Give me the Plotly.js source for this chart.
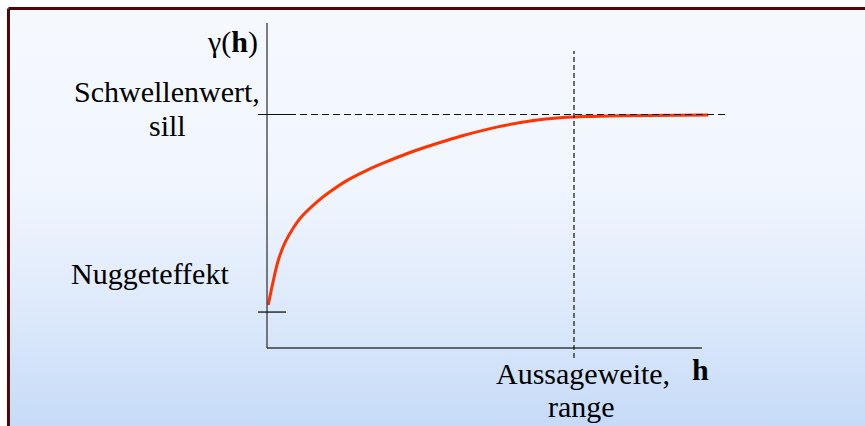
<!DOCTYPE html>
<html>
<head>
<meta charset="utf-8">
<script src="https://cdn.plot.ly/plotly-3.0.1.min.js"></script>
<style>
  html, body { margin:0; padding:0; background:#ffffff; }
  #wrap { position:relative; width:865px; height:426px; background:#ffffff; overflow:hidden; }
  #bg { position:absolute; left:10px; top:10px; right:0; bottom:0;
        background:linear-gradient(to bottom, #f5f9fe 0%, #f1f6fe 42%, #dde9fb 72%, #c6dbf8 100%); }
  #chart { position:absolute; left:0; top:0; width:865px; height:426px; }
</style>
</head>
<body>
<div id="wrap"><div id="bg"></div><div id="chart"></div></div>
<script>
// Semivariogram (schematic): lag distance h vs semivariance gamma(h)
const lagH  = [0.04, 0.21, 0.37, 0.59, 0.86, 1.13, 1.62, 2.05, 2.60, 3.25, 3.90, 4.55, 5.20, 5.64, 6.39, 7.48, 8.57, 9.65, 10.29, 11.5, 14.37];
const gamma = [0.184, 0.291, 0.377, 0.452, 0.515, 0.563, 0.625, 0.669, 0.717, 0.761, 0.798, 0.832, 0.862, 0.880, 0.910, 0.946, 0.972, 0.987, 0.991, 0.995, 0.998];
const sill = 1.0;
const nugget = 0.154;
const rangeH = 10.0;

const labelGamma = "γ(<b>h</b>)";
const labelSill1 = "Schwellenwert,";
const labelSill2 = "sill";
const labelNugget = "Nuggeteffekt";
const labelRange1 = "Aussageweite,";
const labelRange2 = "range";
const labelH = "<b>h</b>";

const serif = "'Liberation Serif', 'Times New Roman', serif";
const axisColor = "#3a3a3a";

const traces = [{
  x: lagH, y: gamma, type: 'scatter', mode: 'lines',
  line: {color: '#ff3300', width: 3, shape: 'spline', smoothing: 1.0},
  hoverinfo: 'skip'
}];

const shapes = [
  // axes
  {type:'line', xref:'x', yref:'y', x0:0, x1:0, y0:0, y1:1.392, line:{color:axisColor, width:1.3}},
  {type:'line', xref:'x', yref:'y', x0:0, x1:14.17, y0:0, y1:0, line:{color:axisColor, width:1.3}},
  // sill dashed line + tick
  {type:'line', xref:'x', yref:'y', x0:0, x1:15.0, y0:sill, y1:sill, line:{color:'#111', width:1.2, dash:'7px,4px'}},
  {type:'line', xref:'x', yref:'y', x0:-0.29, x1:0.85, y0:sill, y1:sill, line:{color:'#111', width:1.2}},
  // range dashed vertical
  {type:'line', xref:'x', yref:'y', x0:rangeH, x1:rangeH, y0:-0.043, y1:1.272, line:{color:'#111', width:1.2, dash:'5px,3px'}},
  // nugget tick
  {type:'line', xref:'x', yref:'y', x0:-0.29, x1:0.62, y0:nugget, y1:nugget, line:{color:'#111', width:1.3}},
  // frame border (top and left)
  {type:'line', xref:'paper', yref:'paper', x0:0.0098, x1:1, y0:0.98, y1:0.98, line:{color:'#4a0808', width:3}},
  {type:'line', xref:'paper', yref:'paper', x0:0.0098, x1:0.0098, y0:0, y1:0.98, line:{color:'#4a0808', width:3}}
];

const f = {family: serif, size: 30, color: '#000'};
function ann(text, x, y, xanchor) {
  return {text: text, x: x, y: y, xref:'x', yref:'y', xanchor: xanchor, yanchor:'middle', showarrow:false, font:f};
}
const annotations = [
  ann(labelGamma, -0.23, 1.31, 'right'),
  ann(labelSill1, -3.27, 1.10, 'center'),
  ann(labelSill2, -3.24, 0.955, 'center'),
  ann(labelNugget, -3.80, 0.321, 'center'),
  ann(labelRange1, 10.29, -0.109, 'center'),
  ann(labelRange2, 10.26, -0.251, 'center'),
  ann(labelH, 14.12, -0.094, 'center')
];

const layout = {
  width: 865, height: 426,
  margin: {l:0, r:0, t:0, b:0, pad:0},
  paper_bgcolor: 'rgba(0,0,0,0)',
  plot_bgcolor: 'rgba(0,0,0,0)',
  showlegend: false,
  xaxis: {range:[-8.697, 19.479], visible:false, showgrid:false, zeroline:false, fixedrange:true},
  yaxis: {range:[-0.334, 1.4904], visible:false, showgrid:false, zeroline:false, fixedrange:true},
  shapes: shapes,
  annotations: annotations
};

Plotly.newPlot('chart', traces, layout, {staticPlot:true, displayModeBar:false});
</script>
</body>
</html>
